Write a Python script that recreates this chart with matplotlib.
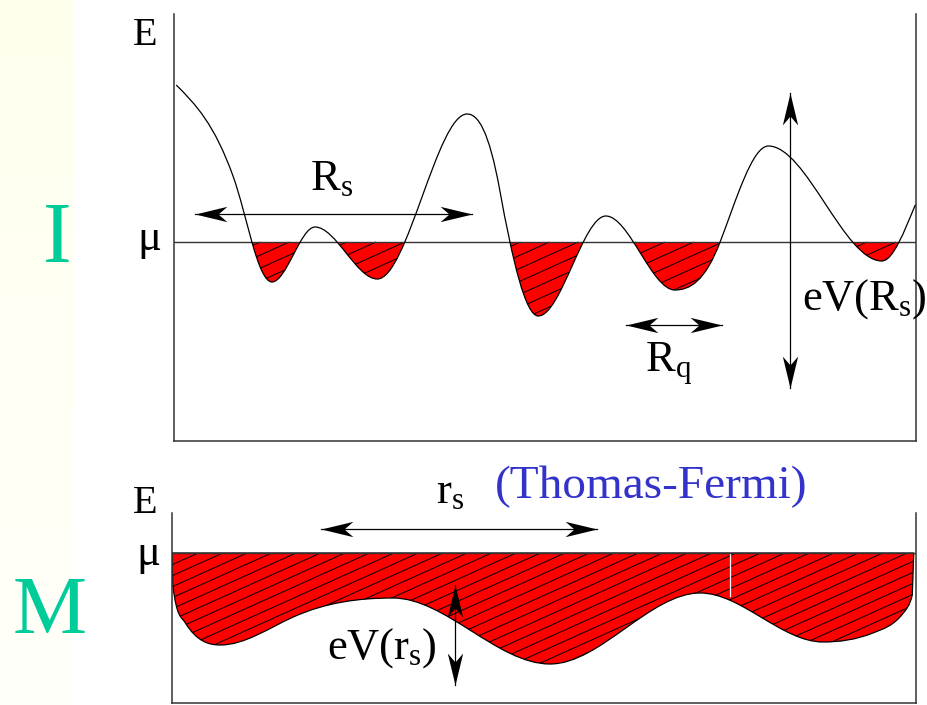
import numpy as np
import matplotlib
matplotlib.use("Agg")
import matplotlib.pyplot as plt
from matplotlib.path import Path
from matplotlib.patches import PathPatch, Rectangle
from matplotlib.markers import MarkerStyle
from matplotlib.collections import LineCollection
from matplotlib import transforms as mtransforms

plt.rcParams['font.family'] = ['Liberation Serif', 'DejaVu Serif']
plt.rcParams['mathtext.fontset'] = 'custom'
plt.rcParams['mathtext.rm'] = 'Liberation Serif'
plt.rcParams['mathtext.it'] = 'Liberation Serif:italic'

# insulator: potential profile E(r), knots with slopes (mu = 0)
r_ins = [0.03, 0.80, 1.05, 1.32, 1.90, 2.74, 3.95, 4.39, 4.91, 5.82, 6.75, 7.36, 8.01, 9.54, 9.99]
E_ins = [7.85, 3.25, 0.0, -2.0, 0.75, -1.85, 6.4, 2.6, -3.7, 1.3, -2.4, 0.0, 4.8, -0.95, 1.85]
dE_ins = [-3.7, -10.4, -13.4, 0, 0, 0, 0, -20.4, 0, 0, 0, 9.7, 0, 0, 8.9]

# metal (Thomas-Fermi): potential profile, ends meet mu
r_met = [0.0, 0.01, 0.18, 0.65, 1.63, 2.97, 5.08, 7.10, 8.75, 9.42, 9.83, 9.95, 9.97]
E_met = [0.0, -1.6, -3.5, -4.6, -3.2, -2.25, -5.55, -2.0, -4.45, -4.0, -3.0, -2.1, 0.0]
dE_met = [np.nan, -29.8, -5.95, 0, 1.67, 0, 0, 0, 0, 1.49, 4.84, 14.9, np.nan]

# double arrows: (r0, E0, r1, E1)
arrows_ins = {'Rs': (0.28, 1.4, 4.02, 1.4),
              'Rq': (6.09, -4.15, 7.39, -4.15),
              'eV': (8.30, 7.45, 8.30, -7.3)}
arrows_met = {'rs': (2.0, 1.2, 5.71, 1.2),
              'eV': (3.80, -1.6, 3.80, -6.6)}

ylim_ins = (-9.95, 11.4)
ylim_met = (-7.5, 2.0)

green = '#00CC99'
blue = '#3333CC'
red = '#FF0000'
dark = '#333333'


def hermite(r, E, dE, verts, codes):
    for i in range(len(r) - 1):
        h = (r[i + 1] - r[i]) / 3
        verts += [(r[i] + h, E[i] + dE[i] * h),
                  (r[i + 1] - h, E[i + 1] - dE[i + 1] * h),
                  (r[i + 1], E[i + 1])]
        codes += [Path.CURVE4] * 3


def hatch_lines(ax, clip, slope=0.45, step=12):
    x0, y0, x1, y1 = ax.bbox.extents
    ymu = ax.transData.transform((0, 0))[1]
    segs = []
    for b in np.arange(y0 - slope * (x1 - x0), ymu, step):
        xa = max(x0, x0 + (y0 - b) / slope)
        xb = min(x1, x0 + (ymu - b) / slope)
        if xb > xa:
            segs.append([(xa, b + slope * (xa - x0)), (xb, b + slope * (xb - x0))])
    lc = LineCollection(segs, colors='k', linewidths=0.7,
                        transform=mtransforms.IdentityTransform(), zorder=1.5)
    ax.add_collection(lc, autolim=False)
    lc.set_clip_path(clip)


head = Path([(0, 0), (-1, 0.24), (-0.72, 0), (-1, -0.24), (0, 0)],
            [Path.MOVETO, Path.LINETO, Path.LINETO, Path.LINETO, Path.CLOSEPOLY])


def double_arrow(ax, r0, e0, r1, e1):
    ax.plot([r0, r1], [e0, e1], color='k', lw=0.9, clip_on=False, zorder=4)
    d = ax.transData.transform((r1, e1)) - ax.transData.transform((r0, e0))
    ang = np.degrees(np.arctan2(d[1], d[0]))
    for (r, e, a) in [(r1, e1, ang), (r0, e0, ang + 180)]:
        m = MarkerStyle(head, transform=mtransforms.Affine2D().rotate_deg(a))
        ax.plot([r], [e], marker=m, ms=46, color='k', mew=0, clip_on=False, zorder=4)


def frame(ax, ylim):
    ax.set_xlim(0, 10)
    ax.set_ylim(*ylim)
    ax.spines['top'].set_visible(False)
    for s in ['left', 'right', 'bottom']:
        ax.spines[s].set_color(dark)
        ax.spines[s].set_linewidth(1.1)
    ax.set_xticks([])
    ax.set_yticks([])
    ax.patch.set_alpha(0)
    ax.axhline(0, color=dark, lw=1.0, zorder=2)


fig = plt.figure(figsize=(9.27, 7.05), dpi=100)

# pale yellow strip on the left
ax_bg = fig.add_axes([0, 0, 73 / 927, 1], zorder=-1)
grad = np.linspace(0, 1, 100)[:, None, None] * np.array([0, 0, 12]) / 255 + np.array([1, 1, 238 / 255])
ax_bg.imshow(grad, aspect='auto', extent=(0, 1, 0, 1))
ax_bg.axis('off')

# ---------------- insulator panel ----------------
ax1 = fig.add_axes([174 / 927, 1 - 441 / 705, 742 / 927, 427 / 705])
frame(ax1, ylim_ins)

verts = [(r_ins[0], E_ins[0])]
codes = [Path.MOVETO]
hermite(r_ins, E_ins, dE_ins, verts, codes)
curve1 = Path(verts, codes)
above = Path(verts + [(r_ins[-1], ylim_ins[1]), (r_ins[0], ylim_ins[1]), (r_ins[0], E_ins[0])],
             codes + [Path.LINETO, Path.LINETO, Path.CLOSEPOLY])
above_patch = PathPatch(above, facecolor='none', edgecolor='none')
ax1.add_patch(above_patch)
fill1 = Rectangle((0, ylim_ins[0]), 10, -ylim_ins[0], facecolor=red, edgecolor='none', zorder=1)
ax1.add_patch(fill1)
fill1.set_clip_path(above_patch)
hatch_lines(ax1, above_patch, slope=0.45, step=13)
ax1.add_patch(PathPatch(curve1, facecolor='none', edgecolor='k', lw=0.9, zorder=3))

for key, (r0, e0, r1, e1) in arrows_ins.items():
    double_arrow(ax1, r0, e0, r1, e1)

tkw = dict(fontsize=32, va='baseline', clip_on=False)
ax1.text(1.83, 2.6, r'$\mathrm{R_s}$', ha='left', **tkw)
ax1.text(6.35, -6.5, r'$\mathrm{R_q}$', ha='left', **tkw)
ax1.text(8.46, -3.4, r'$\mathrm{eV(R_s)}$', ha='left', **tkw)
ax1.text(-0.39, 9.85, 'E', ha='center', fontsize=29, va='baseline', clip_on=False)
ax1.text(-0.33, -0.4, 'μ', ha='center', fontsize=32, va='baseline', clip_on=False)

# ---------------- metal panel ----------------
ax2 = fig.add_axes([172 / 927, 1 - 703 / 705, 744 / 927, 190 / 705])
frame(ax2, ylim_met)

verts = [(r_met[0], E_met[0]), (r_met[1], E_met[1])]
codes = [Path.MOVETO, Path.LINETO]
hermite(r_met[1:12], E_met[1:12], dE_met[1:12], verts, codes)
verts += [(r_met[12], E_met[12]), (r_met[0], E_met[0])]
codes += [Path.LINETO, Path.CLOSEPOLY]
metal = PathPatch(Path(verts, codes), facecolor=red, edgecolor='k', lw=0.9, zorder=1)
ax2.add_patch(metal)
hatch_lines(ax2, metal, slope=0.45, step=11)
ax2.plot([7.5, 7.5], [0, -2.15], color='white', lw=0.9, zorder=1.8)

for key, (r0, e0, r1, e1) in arrows_met.items():
    double_arrow(ax2, r0, e0, r1, e1)

ax2.text(3.55, 2.5, r'$\mathrm{r_s}$', ha='left', **tkw)
ax2.text(2.08, -5.3, r'$\mathrm{eV(r_s)}$', ha='left', **tkw)
ax2.text(-0.36, 2.0, 'E', ha='center', fontsize=29, va='baseline', clip_on=False)
ax2.text(-0.32, -0.6, 'μ', ha='center', fontsize=32, va='baseline', clip_on=False)

fig.text(57 / 927, 1 - 262 / 705, 'I', color=green, fontsize=62, ha='center', va='baseline')
fig.text(50 / 927, 1 - 633 / 705, 'M', color=green, fontsize=60, ha='center', va='baseline')
fig.text(651 / 927, 1 - 498 / 705, '(Thomas-Fermi)', color=blue, fontsize=34,
         ha='center', va='baseline')

fig.savefig('out.png', dpi=100)
